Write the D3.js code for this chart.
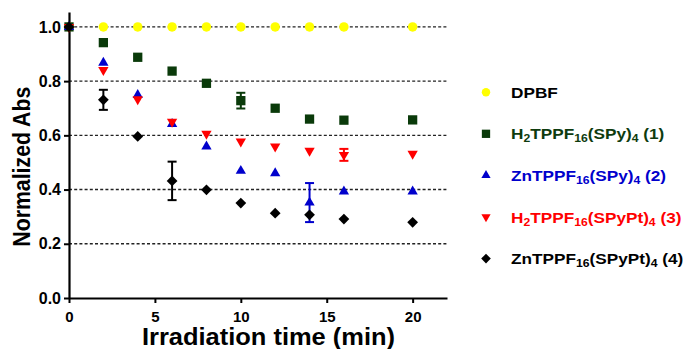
<!DOCTYPE html>
<html>
<head>
<meta charset="utf-8">
<script src="https://cdn.jsdelivr.net/npm/d3@7"></script>
<style>
  html, body { margin: 0; padding: 0; background: #fff; }
  svg { display: block; font-family: 'Liberation Sans', Arial, sans-serif; font-weight: bold; }
</style>
</head>
<body>
<svg id="chart"></svg>
<script>
// irradiation time (min)
const times = [0, 2, 4, 6, 8, 10, 12, 14, 16, 20];

// normalized absorbance per compound
const dpbf = [1.0, 1.0, 1.0, 1.0, 1.0, 1.0, 1.0, 1.0, 1.0, 1.0];
const h2Spy = [1.0, 0.942, 0.888, 0.837, 0.792, 0.728, 0.700, 0.660, 0.656, 0.657];
const znSpy = [1.0, 0.868, 0.749, 0.642, 0.559, 0.469, 0.460, 0.352, 0.393, 0.393];
const h2SpyPt = [1.0, 0.841, 0.733, 0.650, 0.606, 0.577, 0.559, 0.543, 0.528, 0.532];
const znSpyPt = [1.0, 0.731, 0.596, 0.432, 0.399, 0.350, 0.313, 0.307, 0.291, 0.279];

// error bars (half-length), 0 = none drawn
const h2SpyErr = [0, 0, 0, 0, 0, 0.029, 0, 0, 0, 0];
const znSpyErr = [0, 0, 0, 0, 0, 0, 0, 0.072, 0, 0];
const h2SpyPtErr = [0, 0, 0, 0, 0, 0, 0, 0, 0.022, 0];
const znSpyPtErr = [0, 0.037, 0, 0.071, 0, 0, 0, 0, 0, 0];

const legendLabels = ['DPBF', 'H_2TPPF_16(SPy)_4 (1)', 'ZnTPPF_16(SPy)_4 (2)', 'H_2TPPF_16(SPyPt)_4 (3)', 'ZnTPPF_16(SPyPt)_4 (4)'];
const yTicks = [0, 0.2, 0.4, 0.6, 0.8, 1.0];
const xTicks = [0, 5, 10, 15, 20];

const width = 696, height = 349;
const svg = d3.select('#chart').attr('width', width).attr('height', height).attr('viewBox', [0, 0, width, height]);

const x = d3.scaleLinear([0, 22], [69, 447]);
const y = d3.scaleLinear([0, 1.055], [298, 12]);

const series = [
  { values: dpbf, err: null, color: '#ffff00', text: '#000', shape: 'circle' },
  { values: h2Spy, err: h2SpyErr, color: '#0a3a0a', text: '#0e3b0e', shape: 'square' },
  { values: znSpy, err: znSpyErr, color: '#0000cc', text: '#0000cc', shape: 'up' },
  { values: h2SpyPt, err: h2SpyPtErr, color: '#ff0000', text: '#ff0000', shape: 'down' },
  { values: znSpyPt, err: znSpyPtErr, color: '#000000', text: '#000', shape: 'diamond' },
];

const symbolPath = (shape, scale = 1) => {
  if (shape === 'circle') return d3.symbol(d3.symbolCircle, 70 * scale)();
  if (shape === 'square') return d3.symbol(d3.symbolSquare, 86 * scale)();
  if (shape === 'up' || shape === 'down') return d3.symbol(d3.symbolTriangle, 46 * scale)();
  return d3.symbol(d3.symbolSquare, 58 * scale)();
};
const symbolRotate = (shape) => (shape === 'down' ? 180 : shape === 'diamond' ? 45 : 0);

/**
 * grid lines
 */
svg.append('g')
  .selectAll('line')
  .data(yTicks.filter((t) => t > 0))
  .join('line')
  .attr('x1', x(0))
  .attr('x2', x(22))
  .attr('y1', (d) => y(d))
  .attr('y2', (d) => y(d))
  .attr('stroke', '#222')
  .attr('stroke-width', 1.4)
  .attr('stroke-dasharray', '3,2.2');

/**
 * axes
 */
const yAxis = d3.axisLeft(y).tickValues(yTicks).tickFormat(d3.format('.1f')).tickSize(5).tickSizeOuter(0).tickPadding(3);
svg.append('g')
  .attr('transform', `translate(${x(0)},0)`)
  .call(yAxis)
  .call((g) => g.select('.domain').attr('stroke-width', 2.2))
  .call((g) => g.selectAll('.tick line').attr('stroke-width', 2))
  .call((g) => g.selectAll('.tick text').attr('font-size', 16).attr('font-weight', 'bold').attr('font-family', 'Liberation Sans, Arial, sans-serif').attr('fill', '#000'));

const xAxis = d3.axisBottom(x).tickValues(xTicks).tickSize(5).tickSizeOuter(0).tickPadding(8);
svg.append('g')
  .attr('transform', `translate(0,${y(0)})`)
  .call(xAxis)
  .call((g) => g.select('.domain').attr('stroke-width', 2.2))
  .call((g) => g.selectAll('.tick line').attr('stroke-width', 2))
  .call((g) => g.selectAll('.tick text').attr('font-size', 15).attr('font-weight', 'bold').attr('font-family', 'Liberation Sans, Arial, sans-serif').attr('fill', '#000'));

// axis titles
svg.append('text')
  .attr('x', 268.5)
  .attr('y', 345)
  .attr('text-anchor', 'middle')
  .attr('font-size', 23)
  .attr('textLength', 253)
  .attr('lengthAdjust', 'spacingAndGlyphs')
  .text('Irradiation time (min)');

svg.append('text')
  .attr('transform', 'translate(29.5,166.7) rotate(-90)')
  .attr('text-anchor', 'middle')
  .attr('font-size', 23)
  .attr('textLength', 160)
  .attr('lengthAdjust', 'spacingAndGlyphs')
  .text('Normalized Abs');

/**
 * error bars + points
 */
const plot = svg.append('g');
series.forEach((s) => {
  if (s.err) {
    const bars = s.err.map((e, i) => ({ t: times[i], v: s.values[i], e })).filter((d) => d.e > 0);
    const eb = plot.append('g').attr('stroke', s.color).attr('stroke-width', 2);
    bars.forEach((d) => {
      eb.append('line').attr('x1', x(d.t)).attr('x2', x(d.t)).attr('y1', y(d.v - d.e)).attr('y2', y(d.v + d.e));
      [d.v - d.e, d.v + d.e].forEach((cap) => {
        eb.append('line').attr('x1', x(d.t) - 4.5).attr('x2', x(d.t) + 4.5).attr('y1', y(cap)).attr('y2', y(cap));
      });
    });
  }
  plot.append('g')
    .selectAll('path')
    .data(s.values.map((v, i) => ({ t: times[i], v })))
    .join('path')
    .attr('d', symbolPath(s.shape))
    .attr('transform', (d) => `translate(${x(d.t)},${y(d.v)}) rotate(${symbolRotate(s.shape)})`)
    .attr('fill', s.color);
});

/**
 * legend
 */
const legend = svg.append('g');
series.forEach((s, i) => {
  const base = 97.7 + i * 41.6;
  legend.append('path')
    .attr('d', symbolPath(s.shape, 0.8))
    .attr('transform', `translate(486,${base - 5.5}) rotate(${symbolRotate(s.shape)})`)
    .attr('fill', s.color);
  const text = legend.append('text')
    .attr('transform', `translate(511,${base}) scale(1.11,1)`)
    .attr('font-size', 15.5)
    .attr('fill', s.text);
  // "_digits" marks a subscript
  const parts = legendLabels[i].split(/(_\d+)/).filter((p) => p.length);
  let sub = false;
  parts.forEach((p) => {
    if (p.startsWith('_')) {
      text.append('tspan').attr('font-size', 11).attr('dy', sub ? 0 : 3).text(p.slice(1));
      sub = true;
    } else {
      text.append('tspan').attr('dy', sub ? -3 : 0).text(p);
      sub = false;
    }
  });
});
</script>
</body>
</html>
